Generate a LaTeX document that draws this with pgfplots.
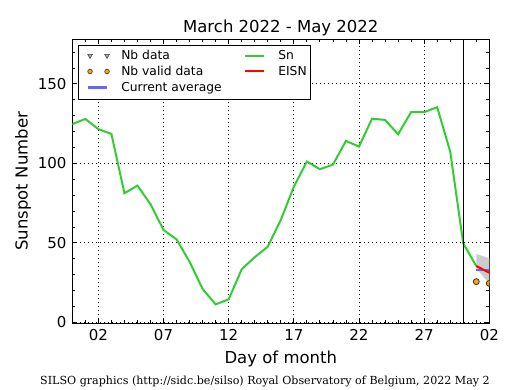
\documentclass[border=0pt]{standalone}
\usepackage{pgfplots}
\pgfplotsset{compat=1.18}
\usepackage{fontspec}
\setmainfont{DejaVu Sans}
\newfontfamily\footfont{DejaVu Serif}
\definecolor{sngreen}{RGB}{50,205,50}
\definecolor{avgblue}{RGB}{102,102,255}
\definecolor{validorange}{RGB}{255,165,0}
\definecolor{bandgray}{RGB}{204,204,204}
\begin{document}
\begin{tikzpicture}
\useasboundingbox (-72.3bp,-66.7bp) rectangle (442.7bp,323.3bp);
\begin{axis}[
  scale only axis, width=417bp, height=284bp,
  xmin=0, xmax=32, ymin=-0.6, ymax=178,
  xtick={2,7,12,17,22,27,32},
  xticklabels={02,07,12,17,22,27,02},
  minor xtick={0,1,...,32},
  ytick={0,50,100,150},
  minor ytick={0,10,...,170},
  tick align=inside,
  major tick length=5bp, minor tick length=3bp,
  tick style={black, line width=0.8bp},
  axis line style={black, line width=1.2bp},
  grid=major,
  major grid style={black, line width=0.7bp, dash pattern=on 1bp off 3bp},
  /pgf/number format/assume math mode=true,
  ticklabel style={font=\fontsize{15bp}{18bp}\selectfont, inner sep=0pt},
  xticklabel style={anchor=north, yshift=-6.3bp},
  yticklabel style={anchor=east, xshift=-5.6bp},
  every axis title/.style={font=\fontsize{16.5bp}{20bp}\selectfont, at={(axis description cs:0.5,1)}, anchor=base, yshift=7bp, inner sep=0pt},
  title={March 2022 - May 2022},
  xlabel={Day of month},
  xlabel style={font=\fontsize{16.5bp}{20bp}\selectfont, at={(axis description cs:0.5,0)}, anchor=north, yshift=-27.5bp, inner sep=0pt},
  ylabel={Sunspot Number},
  ylabel style={font=\fontsize{16.5bp}{20bp}\selectfont, at={(axis description cs:-0.1074,0.5)}, anchor=base, inner sep=0pt},
  clip marker paths=true,
  legend columns=2,
  legend style={at={(axis description cs:0,1)}, anchor=north west, xshift=6bp, yshift=-5.7bp, draw=black, line width=1bp, inner xsep=4bp, inner ysep=5.5bp, font=\fontsize{12.3bp}{14bp}\selectfont, column sep=6bp, row sep=4.3bp, nodes={inner sep=0pt, text height=9bp, text depth=2.5bp, anchor=base west}},
]
% legend entries (row-wise: col1, col2)
\addlegendimage{only marks, mark=triangle*, mark size=2.7bp, mark options={rotate=180, fill=gray!60, draw=black!75, line width=0.6bp},
  legend image code/.code={\path (0bp,0bp) (30bp,0bp); \draw[only marks, mark repeat=1] plot coordinates {(6bp,4.3bp) (23bp,4.3bp)};}}
\addlegendentry{\makebox[113bp][l]{Nb data}}
\addlegendimage{sngreen, line width=2bp,
  legend image code/.code={\path (0bp,0bp) (30bp,0bp); \draw (4bp,4.3bp) -- (23bp,4.3bp);}}
\addlegendentry{Sn}
\addlegendimage{only marks, mark=*, mark size=2.3bp, mark options={fill=validorange, draw=black!80, line width=0.6bp},
  legend image code/.code={\path (0bp,0bp) (30bp,0bp); \draw[only marks, mark repeat=1] plot coordinates {(6bp,4.3bp) (23bp,4.3bp)};}}
\addlegendentry{\makebox[113bp][l]{Nb valid data}}
\addlegendimage{red, line width=2bp,
  legend image code/.code={\path (0bp,0bp) (30bp,0bp); \draw (4bp,4.3bp) -- (23bp,4.3bp);}}
\addlegendentry{EISN}
\addlegendimage{avgblue, line width=2.5bp,
  legend image code/.code={\path (0bp,0bp) (30bp,0bp); \draw (4bp,4.3bp) -- (23bp,4.3bp);}}
\addlegendentry{\makebox[113bp][l]{Current average}}

% uncertainty band
\addplot[fill=bandgray, draw=none, forget plot] coordinates {(31,43) (32,40.3) (32,24.5) (31,34)} -- cycle;
% Sn daily values
\addplot[sngreen, line width=2bp, forget plot] coordinates {
(0,124.6) (1,127.9) (2,121.5) (3,118.5) (4,81.2) (5,86) (6,74.3) (7,58.1)
(8,52.2) (9,38.1) (10,21) (11,11.3) (12,14.5) (13,33.4) (14,41) (15,47.6)
(16,64.4) (17,85.3) (18,101.1) (19,96.3) (20,99.2) (21,114.1) (22,110.5)
(23,128.1) (24,127.3) (25,118.3) (26,132.2) (27,132.2) (28,135.3) (29,107.4)
(30,49.7) (31,35.4)};
% month boundary
\addplot[black, line width=1.2bp, forget plot] coordinates {(30,-0.6) (30,178)};
% current average
\addplot[avgblue, line width=2.5bp, forget plot] coordinates {(31,32.9) (32,32.9)};
% EISN
\addplot[red, line width=2bp, forget plot] coordinates {(31,35.4) (32,31.2)};
% Nb valid data
\addplot[only marks, mark=*, mark size=3bp, mark options={fill=validorange, draw=black!80, line width=0.8bp}, forget plot] coordinates {(31,25.6) (32,24.5)};
\end{axis}
\node[font=\footfont\fontsize{11.1bp}{13bp}\selectfont, anchor=base, inner sep=0pt] at (192.7bp,-60.7bp) {SILSO graphics (http://sidc.be/silso) Royal Observatory of Belgium, 2022 May 2};
\end{tikzpicture}
\end{document}
